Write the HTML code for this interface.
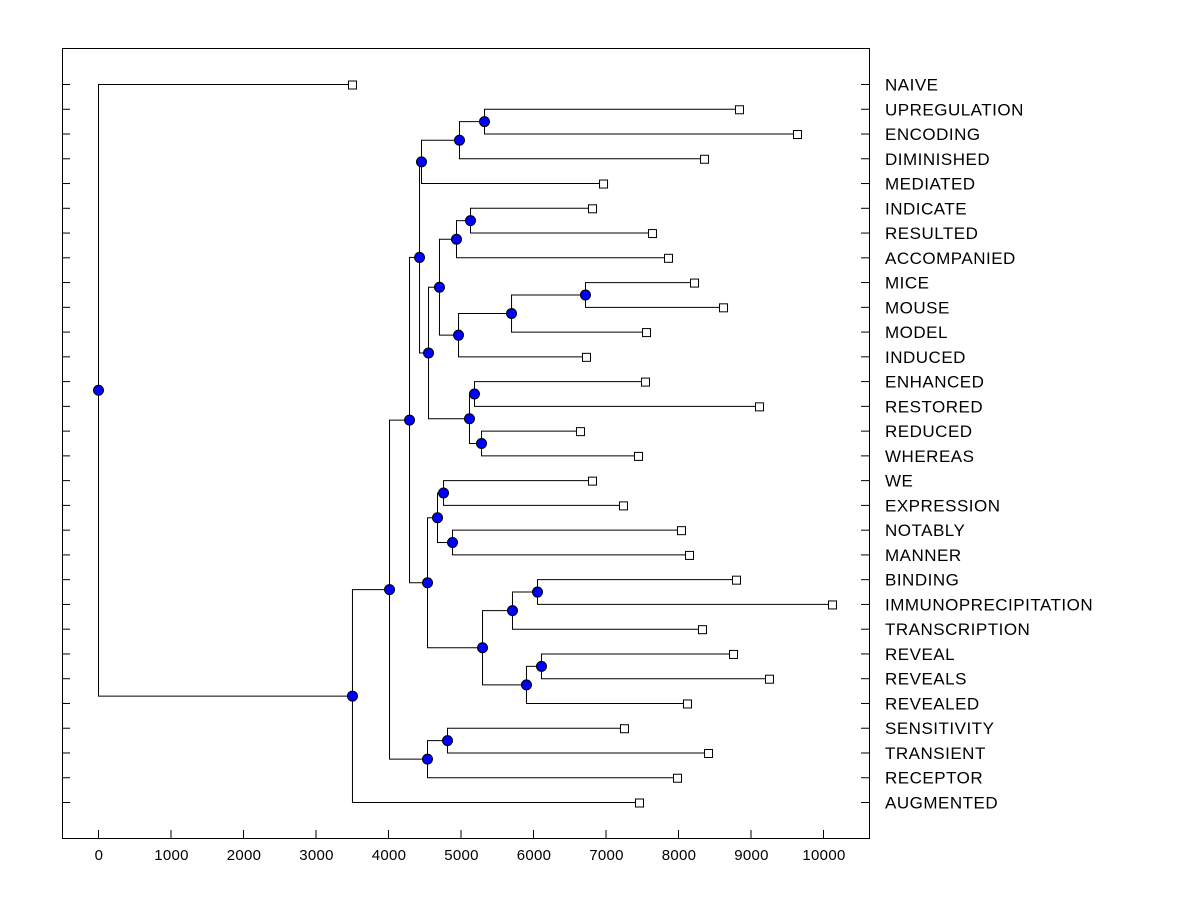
<!DOCTYPE html>
<html><head><meta charset="utf-8"><style>
body{margin:0;background:#fff;}
svg text{font-family:"Liberation Sans",sans-serif;}
</style></head><body>
<svg id="c" width="1200" height="900" xmlns="http://www.w3.org/2000/svg"></svg>
<script>
const labels=["NAIVE","UPREGULATION","ENCODING","DIMINISHED","MEDIATED","INDICATE","RESULTED","ACCOMPANIED","MICE","MOUSE","MODEL","INDUCED","ENHANCED","RESTORED","REDUCED","WHEREAS","WE","EXPRESSION","NOTABLY","MANNER","BINDING","IMMUNOPRECIPITATION","TRANSCRIPTION","REVEAL","REVEALS","REVEALED","SENSITIVITY","TRANSIENT","RECEPTOR","AUGMENTED"];
const leafValues=[3503,8841,9641,8359,6966,6814,7641,7862,8221,8621,7559,6731,7545,9117,6648,7448,6814,7241,8041,8152,8800,10124,8331,8759,9255,8124,7255,8414,7986,7462];
// internal nodes: [name, height, childA, childB]; leaves referenced by index number
const nodeNames=["K","J","H","P","N","R","Q","O","L","S","T","M","I","F","W","X","U","AA","Y","AB","Z","V","G","C","E","D","B","A","root"];
const nodeHeights=[5324,4979,4455,5131,4938,6717,5697,4966,4703,5186,5283,5117,4552,4428,4759,4883,4676,6055,5710,6110,5903,5297,4538,4290,4814,4538,4014,3503,0];
const nodeChildren=[[1,2],["K",3],["J",4],[5,6],["P",7],[8,9],["R",10],["Q",11],["N","O"],[12,13],[14,15],["S","T"],["L","M"],["H","I"],[16,17],[18,19],["W","X"],[20,21],["AA",22],[23,24],["AB",25],["Y","Z"],["U","V"],["F","G"],[26,27],["E",28],["C","D"],["B",29],[0,"A"]];
const xTicks=[0,1000,2000,3000,4000,5000,6000,7000,8000,9000,10000];
const svg=document.getElementById('c');const NS="http://www.w3.org/2000/svg";
const X=v=>98+v*0.0725, Y=i=>84+i*(802-84)/29;
function el(t,a,name){const e=document.createElementNS(NS,t);for(const k in a)e.setAttribute(k,a[k]);


svg.appendChild(e);return e;}
el('rect',{x:62.5,y:48.5,width:807,height:790,fill:'none',stroke:'#000'},'plot-frame');
labels.forEach((l,i)=>{el('line',{x1:62,x2:70,y1:Y(i)+.5,y2:Y(i)+.5,stroke:'#000'},'y-tick');
el('line',{x1:861,x2:869,y1:Y(i)+.5,y2:Y(i)+.5,stroke:'#000'},'y-tick-right');
const t=el('text',{x:885,y:Y(i)+6.5,'font-size':17,'letter-spacing':0.5},'leaf-label');t.textContent=l;});
xTicks.forEach(v=>{el('line',{x1:X(v)+.5,x2:X(v)+.5,y1:830,y2:838,stroke:'#000'},'x-tick');
const t=el('text',{x:X(v)+1,y:860,'font-size':15,'text-anchor':'middle','letter-spacing':0.3},'x-tick-label');t.textContent=v;});
const pos={};
function get(c){if(typeof c==='number')return {x:X(leafValues[c]),y:Y(c),leaf:c};return pos[c];}
nodeNames.forEach((n,k)=>{const a=get(nodeChildren[k][0]),b=get(nodeChildren[k][1]);const x=X(nodeHeights[k]);pos[n]={x:x,y:(a.y+b.y)/2};});
const dots=[];
nodeNames.forEach((n,k)=>{const p=pos[n];nodeChildren[k].forEach(c=>{const q=get(c);
el('line',{x1:p.x,x2:q.x,y1:q.y+.5,y2:q.y+.5,stroke:'#000'},'branch');});
const a=get(nodeChildren[k][0]),b=get(nodeChildren[k][1]);
el('line',{x1:p.x+.5,x2:p.x+.5,y1:a.y+.5,y2:b.y+.5,stroke:'#000'},'branch-join');dots.push(p);});
leafValues.forEach((v,i)=>el('rect',{x:X(v)-3.5,y:Y(i)-3,width:8,height:8,fill:'#fff',stroke:'#000'},'leaf-marker'));
dots.forEach(p=>el('circle',{cx:p.x+.5,cy:p.y+.5,r:5,fill:'#0000ff',stroke:'#000'},'merge-node'));
</script></body></html>
